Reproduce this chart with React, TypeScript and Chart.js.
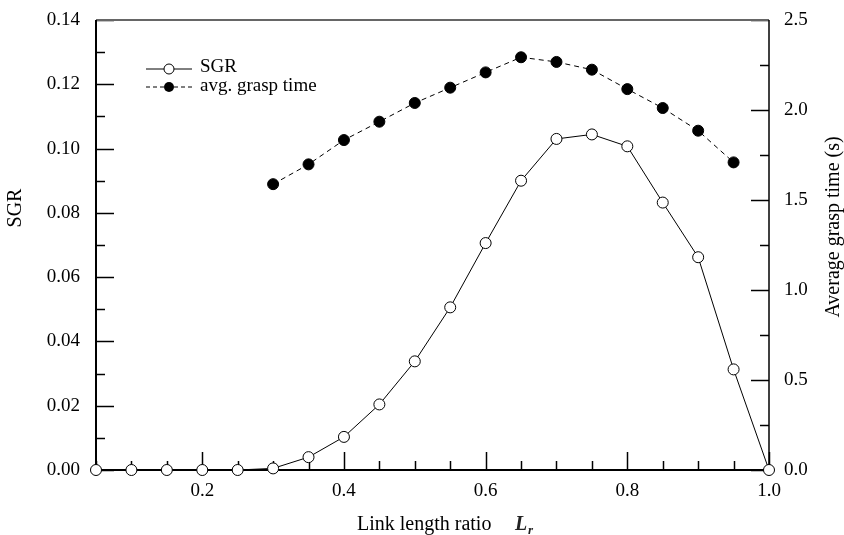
import React, { useEffect, useRef } from "react";
import { Chart, registerables } from "chart.js";

Chart.register(...registerables);

const linkRatio = [0.05, 0.1, 0.15, 0.2, 0.25, 0.3, 0.35, 0.4, 0.45, 0.5, 0.55, 0.6, 0.65, 0.7, 0.75, 0.8, 0.85, 0.9, 0.95, 1.0];
const sgrValues = [0, 0, 0, 0, 0, 0.0005, 0.004, 0.0103, 0.0204, 0.0338, 0.0506, 0.0706, 0.090, 0.103, 0.1044, 0.1007, 0.0832, 0.0662, 0.0313, 0];
const graspRatio = [0.3, 0.35, 0.4, 0.45, 0.5, 0.55, 0.6, 0.65, 0.7, 0.75, 0.8, 0.85, 0.9, 0.95];
const graspTime = [1.588, 1.698, 1.833, 1.935, 2.039, 2.124, 2.209, 2.293, 2.267, 2.224, 2.116, 2.011, 1.885, 1.709];

const xTickLabels = ["0.2", "0.4", "0.6", "0.8", "1.0"];
const FONT = "'Liberation Serif', 'Times New Roman', serif";

const decorPlugin = {
  id: "decor",
  beforeDatasetsDraw(chart: any) {
    const { ctx, chartArea: a, scales } = chart;
    const x = scales.x, y = scales.y, y1 = scales.y1;
    ctx.save();
    ctx.strokeStyle = "#000";
    ctx.lineWidth = 1.5;
    // x ticks every 0.05 from 0.05 to 1.0; major at multiples of 0.2
    for (let i = 1; i <= 20; i++) {
      const px = Math.round(x.getPixelForValue(i * 0.05)) + 0.5;
      const len = i % 4 === 0 ? 18 : 9;
      ctx.beginPath();
      ctx.moveTo(px, a.bottom);
      ctx.lineTo(px, a.bottom - len);
      ctx.stroke();
    }
    // left ticks every 0.01, major every 0.02
    for (let i = 0; i <= 14; i++) {
      const py = Math.round(y.getPixelForValue(i * 0.01)) + 0.5;
      const len = i % 2 === 0 ? 18 : 9;
      ctx.beginPath();
      ctx.moveTo(a.left, py);
      ctx.lineTo(a.left + len, py);
      ctx.stroke();
    }
    // right ticks every 0.25, major every 0.5
    for (let i = 0; i <= 10; i++) {
      const py = Math.round(y1.getPixelForValue(i * 0.25)) + 0.5;
      const len = i % 2 === 0 ? 18 : 9;
      ctx.beginPath();
      ctx.moveTo(a.right, py);
      ctx.lineTo(a.right - len, py);
      ctx.stroke();
    }
    ctx.strokeStyle = "#666";
    ctx.lineWidth = 2;
    ctx.beginPath();
    ctx.moveTo(a.left, a.top);
    ctx.lineTo(a.right, a.top);
    ctx.stroke();
    ctx.strokeStyle = "#000";
    ctx.lineWidth = 2;
    ctx.beginPath();
    ctx.moveTo(a.left, a.top);
    ctx.lineTo(a.left, a.bottom);
    ctx.lineTo(a.right, a.bottom);
    ctx.stroke();
    ctx.lineWidth = 1.5;
    ctx.beginPath();
    ctx.moveTo(a.right, a.top);
    ctx.lineTo(a.right, a.bottom);
    ctx.stroke();
    ctx.restore();
  },
  afterDraw(chart: any) {
    const { ctx } = chart;
    ctx.save();
    ctx.fillStyle = "#000";
    ctx.strokeStyle = "#000";
    ctx.font = `19px ${FONT}`;
    ctx.textBaseline = "middle";
    ctx.textAlign = "left";
    ctx.lineWidth = 1;
    ctx.beginPath();
    ctx.moveTo(146, 69);
    ctx.lineTo(192, 69);
    ctx.stroke();
    ctx.beginPath();
    ctx.arc(169, 69, 5, 0, Math.PI * 2);
    ctx.fillStyle = "#fff";
    ctx.fill();
    ctx.stroke();
    ctx.fillStyle = "#000";
    ctx.fillText("SGR", 200, 67);
    ctx.setLineDash([4, 3]);
    ctx.beginPath();
    ctx.moveTo(146, 87);
    ctx.lineTo(192, 87);
    ctx.stroke();
    ctx.setLineDash([]);
    ctx.beginPath();
    ctx.arc(169, 87, 5, 0, Math.PI * 2);
    ctx.fill();
    ctx.fillText("avg. grasp time", 200, 86);
    ctx.font = `20px ${FONT}`;
    ctx.textAlign = "center";
    ctx.save();
    ctx.translate(16, 208);
    ctx.rotate(-Math.PI / 2);
    ctx.fillText("SGR", 0, 0);
    ctx.restore();
    ctx.save();
    ctx.translate(834, 227);
    ctx.rotate(-Math.PI / 2);
    ctx.fillText("Average grasp time (s)", 0, 0);
    ctx.restore();
    ctx.textAlign = "left";
    ctx.textBaseline = "alphabetic";
    ctx.fillText("Link length ratio", 357, 530);
    ctx.font = `italic bold 20px ${FONT}`;
    ctx.fillStyle = "#222";
    ctx.fillText("L", 515, 530);
    ctx.font = `italic bold 13px ${FONT}`;
    ctx.fillText("r", 528, 534);
    ctx.restore();
  },
};

const fitY = (w: number) => (s: any) => {
  s.width = w;
  s.paddingTop = 0;
  s.paddingBottom = 0;
};

export default function App() {
  const ref = useRef<HTMLCanvasElement | null>(null);
  useEffect(() => {
    if (!ref.current) return;
    const chart = new Chart(ref.current, {
      type: "line",
      data: {
        datasets: [
          {
            label: "SGR",
            data: linkRatio.map((x, i) => ({ x, y: sgrValues[i] })),
            yAxisID: "y",
            borderColor: "#000",
            borderWidth: 1,
            pointRadius: 5.5,
            pointBackgroundColor: "#fff",
            pointBorderColor: "#000",
            pointBorderWidth: 1,
            tension: 0,
            clip: false,
          },
          {
            label: "avg. grasp time",
            data: graspRatio.map((x, i) => ({ x, y: graspTime[i] })),
            yAxisID: "y1",
            borderColor: "#000",
            borderWidth: 1,
            borderDash: [5, 4],
            pointRadius: 5.5,
            pointBackgroundColor: "#000",
            pointBorderColor: "#000",
            pointBorderWidth: 1,
            tension: 0,
            clip: false,
          },
        ],
      },
      options: {
        animation: false,
        responsive: true,
        maintainAspectRatio: false,
        layout: { padding: { top: 20, left: 0, right: 0, bottom: 0 } },
        plugins: { legend: { display: false }, tooltip: { enabled: false } },
        scales: {
          x: {
            type: "linear",
            min: 0.05,
            max: 1.0,
            border: { display: false },
            grid: { display: false, drawTicks: false },
            ticks: {
              stepSize: 0.05,
              autoSkip: false,
              maxRotation: 0,
              padding: 10,
              color: "#000",
              font: { family: FONT, size: 19 },
              callback: (v: any) => {
                const s = Number(v).toFixed(1);
                return Math.round(Number(v) * 100) % 20 === 0 && xTickLabels.includes(s) ? s : "";
              },
            },
            afterFit: (s: any) => {
              s.height = 65;
              s.paddingLeft = 0;
              s.paddingRight = 0;
            },
          },
          y: {
            type: "linear",
            position: "left",
            min: 0,
            max: 0.14,
            border: { display: false },
            grid: { display: false, drawTicks: false },
            ticks: {
              stepSize: 0.01,
              autoSkip: false,
              padding: 16,
              color: "#000",
              font: { family: FONT, size: 19 },
              callback: (v: any) => (Math.round(Number(v) * 100) % 2 === 0 ? Number(v).toFixed(2) : ""),
            },
            afterFit: fitY(96),
          },
          y1: {
            type: "linear",
            position: "right",
            min: 0,
            max: 2.5,
            border: { display: false },
            grid: { display: false, drawTicks: false },
            ticks: {
              stepSize: 0.25,
              autoSkip: false,
              padding: 15,
              color: "#000",
              font: { family: FONT, size: 19 },
              callback: (v: any) => (Math.round(Number(v) * 100) % 50 === 0 ? Number(v).toFixed(1) : ""),
            },
            afterFit: fitY(75),
          },
        },
      },
      plugins: [decorPlugin],
    } as any);
    return () => chart.destroy();
  }, []);
  return (
    <div style={{ position: "absolute", left: 0, top: 0, width: 844, height: 535, background: "#fff" }}>
      <canvas ref={ref} />
    </div>
  );
}
